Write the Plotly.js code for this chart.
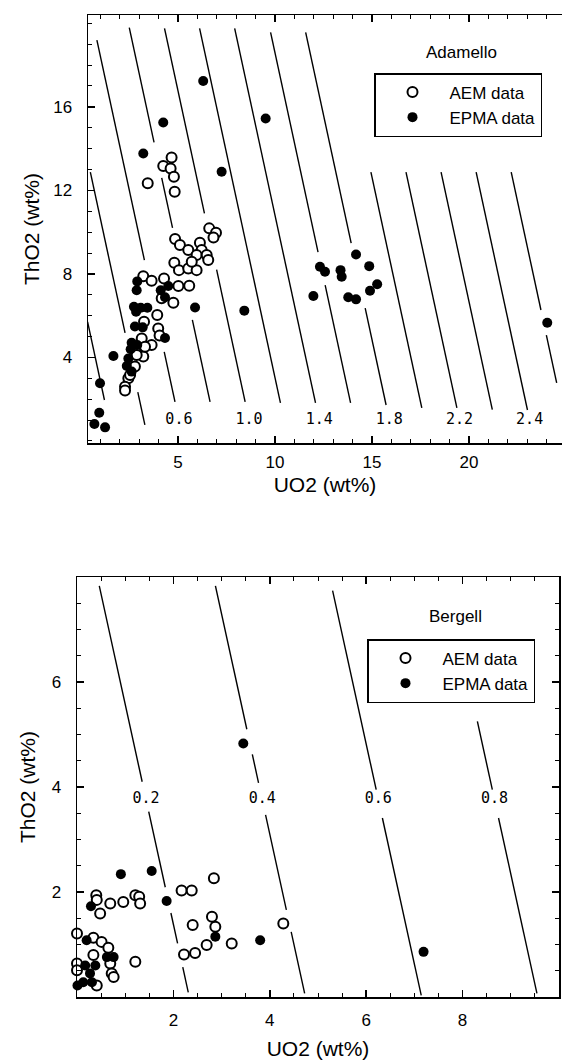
<!DOCTYPE html>
<html><head><meta charset="utf-8">
<script src="https://cdn.plot.ly/plotly-3.0.1.min.js"></script>
<style>html,body{margin:0;padding:0;background:#fff}#chart{width:562px;height:1064px}</style>
</head><body><div id="chart"></div>
<script>
// ---------- Adamello (top panel) ----------
const adamelloAemUO2 = [4.67,4.24,4.62,4.79,3.44,4.83,6.61,6.96,6.83,4.85,5.10,5.53,6.13,6.22,5.96,6.48,6.56,4.81,5.05,5.53,5.96,5.71,3.21,3.64,4.28,5.02,5.58,4.16,4.76,3.93,3.25,3.98,3.13,4.05,3.64,3.21,2.84,2.78,2.44,2.27,2.27,3.30,2.87,2.53];
const adamelloAemThO2 = [13.57,13.17,13.05,12.65,12.34,11.93,10.18,9.97,9.74,9.67,9.38,9.14,9.49,9.14,8.90,8.90,8.66,8.53,8.18,8.26,8.18,8.58,7.89,7.67,7.78,7.42,7.43,6.83,6.62,6.03,5.71,5.39,4.91,5.05,4.59,4.04,4.23,3.56,3.00,2.60,2.41,4.51,4.11,3.16];
const adamelloEpmaUO2 = [6.30,4.24,3.21,9.52,7.25,2.90,2.87,2.73,3.08,3.42,2.84,2.78,3.18,4.11,4.50,4.33,2.61,2.56,2.90,2.44,2.36,2.61,4.33,5.88,8.42,1.67,0.98,0.94,0.69,1.24,14.18,12.32,12.58,13.38,13.44,14.86,15.27,14.90,11.98,13.78,14.18,24.04];
const adamelloEpmaThO2 = [17.24,15.25,13.77,15.44,12.89,7.64,7.22,6.43,6.38,6.38,6.19,5.48,5.44,7.22,7.42,6.88,4.70,4.39,4.59,3.95,3.59,3.32,4.93,6.39,6.24,4.07,2.76,1.35,0.81,0.65,8.93,8.34,8.10,8.18,7.86,8.37,7.50,7.19,6.94,6.88,6.78,5.66];
// isolines: value, and ThO2 extents of drawn pieces [top, bottom]
const adamelloIsoValues = [0.2,0.4,0.6,0.8,1.0,1.2,1.4,1.6,1.8,2.0,2.2,2.4,2.6,2.8];
const adamelloIsoPieces = [
  [[5.7,1.96]],
  [[12.87,5.17],[2.34,0.77]],
  [[19.2,8.66],[4.26,1.87]],
  [[19.8,14.3],[12.6,10.2],[5.8,1.87]],
  [[19.76,10.9],[8.2,1.87]],
  [[19.76,1.82]],
  [[19.76,1.82]],
  [[19.57,9.04],[7.46,1.82]],
  [[19.57,9.47],[6.36,1.72]],
  [[12.87,1.58]],
  [[12.87,1.58]],
  [[12.87,1.5]],
  [[12.87,1.48]],
  [[12.87,6.27],[5.07,2.78]]
];
const adamelloIsoCoef = {u:0.1106, th:0.0257, c0:0.016};
const adamelloLabelLines = [0.6,1.0,1.4,1.8,2.2,2.6];
const adamelloLabelText = ['0.6','1.0','1.4','1.8','2.2','2.4'];
const adamelloLabelThO2 = 1.0;

// ---------- Bergell (bottom panel) ----------
const bergellAemUO2 = [2.84,2.17,2.38,0.40,0.41,0.69,0.48,0.96,1.21,1.29,1.31,2.80,2.87,2.40,2.69,3.21,2.45,2.22,4.28,1.21,0.00,0.34,0.51,0.65,0.34,0.69,0.72,0.76,0.00,0.00,0.41];
const bergellAemThO2 = [2.26,2.03,2.03,1.94,1.85,1.78,1.59,1.81,1.94,1.91,1.78,1.53,1.34,1.37,0.99,1.02,0.84,0.81,1.40,0.67,1.21,1.13,1.05,0.94,0.80,0.64,0.45,0.38,0.64,0.51,0.22];
const bergellEpmaUO2 = [0.91,1.55,1.86,3.80,2.87,0.29,0.20,0.76,3.45,7.19,0.01,0.13,0.27,0.38,0.17,0.31,0.62];
const bergellEpmaThO2 = [2.34,2.40,1.83,1.08,1.15,1.73,1.08,0.76,4.83,0.86,0.22,0.28,0.45,0.60,0.60,0.28,0.76];
const bergellIsoValues = [0.2,0.4,0.6,0.8];
const bergellIsoPieces = [
  [[7.83,4.1],[3.53,2.09],[1.6,1.02],[0.57,0.09]],
  [[7.83,5.1],[4.62,4.08],[3.47,1.66],[1.24,0.07]],
  [[7.74,3.95],[3.41,0.03]],
  [[5.25,3.95],[3.41,0.07]]
];
const bergellIsoCoef = {u:0.083, th:0.0198, c0:0.0066};
const bergellLabelLines = [0.2,0.4,0.6,0.8];
const bergellLabelText = ['0.2','0.4','0.6','0.8'];
const bergellLabelThO2 = 3.76;

// ---------- helpers ----------
function isoU(c, th, k){ return (c - k.c0 - k.th*th)/k.u; }
function isoTrace(values, pieces, k, xa, ya){
  const xs=[], ys=[];
  values.forEach((c,i)=>{
    pieces[i].forEach(p=>{
      xs.push(isoU(c,p[0],k), isoU(c,p[1],k), null);
      ys.push(p[0], p[1], null);
    });
  });
  return {x:xs, y:ys, mode:'lines', line:{color:'black', width:1.4}, xaxis:xa, yaxis:ya, showlegend:false, hoverinfo:'skip'};
}
function labelTrace(lines, texts, th, k, xa, ya){
  return {x:lines.map(c=>isoU(c,th,k)), y:lines.map(()=>th), text:texts, mode:'text',
    textfont:{family:'DejaVu Sans Mono', size:15, color:'black'}, xaxis:xa, yaxis:ya, showlegend:false, hoverinfo:'skip', cliponaxis:false};
}
const openM = {symbol:'circle', size:10, color:'white', line:{color:'black', width:2}};
const fillM = {symbol:'circle', size:10, color:'black', line:{color:'black', width:0}};

const traces = [
  isoTrace(adamelloIsoValues, adamelloIsoPieces, adamelloIsoCoef, 'x', 'y'),
  labelTrace(adamelloLabelLines, adamelloLabelText, adamelloLabelThO2, adamelloIsoCoef, 'x', 'y'),
  {x:adamelloAemUO2, y:adamelloAemThO2, mode:'markers', marker:openM, name:'AEM data', xaxis:'x', yaxis:'y', legend:'legend', cliponaxis:false},
  {x:adamelloEpmaUO2, y:adamelloEpmaThO2, mode:'markers', marker:fillM, name:'EPMA data', xaxis:'x', yaxis:'y', legend:'legend', cliponaxis:false},
  isoTrace(bergellIsoValues, bergellIsoPieces, bergellIsoCoef, 'x2', 'y2'),
  labelTrace(bergellLabelLines, bergellLabelText, bergellLabelThO2, bergellIsoCoef, 'x2', 'y2'),
  {x:bergellAemUO2, y:bergellAemThO2, mode:'markers', marker:openM, name:'AEM data', xaxis:'x2', yaxis:'y2', legend:'legend2', cliponaxis:false},
  {x:bergellEpmaUO2, y:bergellEpmaThO2, mode:'markers', marker:fillM, name:'EPMA data', xaxis:'x2', yaxis:'y2', legend:'legend2', cliponaxis:false}
];

const W=562, H=1064;
const FONT='Liberation Sans, Arial, sans-serif';
function axisBase(){
  return {showgrid:false, zeroline:false, showline:true, linecolor:'black', linewidth:1.5,
    ticks:'inside', ticklen:7, tickwidth:1.5, tickcolor:'black',
    tickfont:{family:FONT, size:17, color:'black'},
    title:{font:{family:FONT, size:21, color:'black'}}};
}
const xa1 = Object.assign(axisBase(), {domain:[88/W, 1], anchor:'y', range:[0.36, 24.8], tickvals:[5,10,15,20], mirror:'ticks',
  ticklabelstandoff:3,
  minor:{dtick:1, tick0:0, ticks:'inside', ticklen:4, tickcolor:'black', tickwidth:1}});
xa1.title.text = 'UO2 (wt%)'; xa1.title.standoff = 6;
const ya1 = Object.assign(axisBase(), {domain:[1-443/H, 1-15/H], anchor:'x', range:[-0.1, 20.4], tickvals:[4,8,12,16], mirror:false,
  ticklabelstandoff:11,
  minor:{dtick:1, tick0:0, ticks:'inside', ticklen:4, tickcolor:'black', tickwidth:1}});
ya1.title.text = 'ThO2 (wt%)'; ya1.title.standoff = 8;
const xa2 = Object.assign(axisBase(), {domain:[77/W, 559/W], anchor:'y2', range:[0, 10], tickvals:[2,4,6,8], mirror:'ticks',
  ticklabelstandoff:7,
  minor:{dtick:0.5, tick0:0, ticks:'inside', ticklen:4, tickcolor:'black', tickwidth:1}});
xa2.title.text = 'UO2 (wt%)'; xa2.title.standoff = 12;
const ya2 = Object.assign(axisBase(), {domain:[1-997/H, 1-577/H], anchor:'x2', range:[0, 8], tickvals:[2,4,6], mirror:'ticks',
  ticklabelstandoff:11,
  minor:{dtick:0.5, tick0:0, ticks:'inside', ticklen:4, tickcolor:'black', tickwidth:1}});
ya2.title.text = 'ThO2 (wt%)'; ya2.title.standoff = 10;

const legendBase = {xanchor:'left', yanchor:'top', bordercolor:'black', borderwidth:1.5, bgcolor:'white',
  font:{family:FONT, size:17, color:'black'}, itemwidth:64, tracegroupgap:0};

const layout = {
  width:W, height:H, margin:{l:0, r:0, t:0, b:0}, paper_bgcolor:'white', plot_bgcolor:'white',
  xaxis:xa1, yaxis:ya1, xaxis2:xa2, yaxis2:ya2,
  legend:Object.assign({}, legendBase, {x:374/W, y:1-73/H}),
  legend2:Object.assign({}, legendBase, {x:367/W, y:1-639/H}),
  annotations:[
    {text:'Adamello', xref:'paper', yref:'paper', x:461/W, y:1-52/H, xanchor:'center', yanchor:'middle', showarrow:false, font:{family:FONT, size:17, color:'black'}},
    {text:'Bergell', xref:'paper', yref:'paper', x:455/W, y:1-616/H, xanchor:'center', yanchor:'middle', showarrow:false, font:{family:FONT, size:17, color:'black'}}
  ],
  showlegend:true
};
Plotly.newPlot('chart', traces, layout, {staticPlot:true});
</script></body></html>
